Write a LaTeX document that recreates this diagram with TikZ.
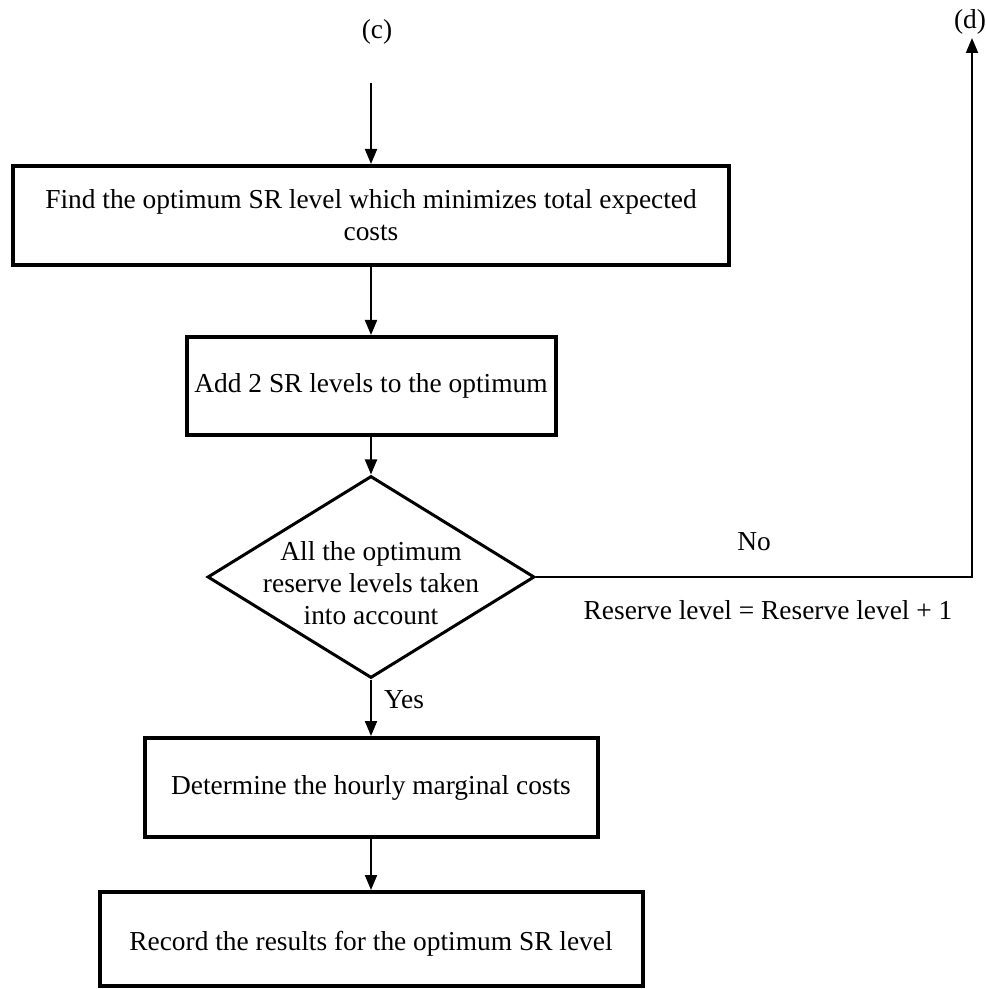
\documentclass[tikz,border=0pt]{standalone}
\usepackage{fontspec}
\setmainfont{Liberation Serif}
\usetikzlibrary{shapes.geometric,arrows.meta}
\begin{document}
\begin{tikzpicture}[x=0.5pt,y=-0.5pt,
  txt/.style={font=\fontsize{13.7}{16}\selectfont},
  box/.style={txt,draw,line width=2pt,rectangle,inner sep=0pt,align=center},
  dec/.style={draw,line width=1.5pt,diamond,inner sep=0pt,minimum width=163.5pt,minimum height=101pt},
  arr/.style={line width=1pt,-{Triangle[width=6pt,length=7.5pt]}},
  lbl/.style={txt,inner sep=0pt}]
\useasboundingbox[fill=white] (0,0) rectangle (985,989);
\node[lbl] (c) at (377,32) {(c)};
\node[lbl] (d) at (970,22) {(d)};
\coordinate (cin) at (371,83);
\node[box,minimum width=358pt,minimum height=49.5pt] (b1) at (371,215.5) {Find the optimum SR level which minimizes total expected\\costs};
\node[box,minimum width=184.5pt,minimum height=49pt] (b2) at (371,386) {Add 2 SR levels to the optimum};
\node[dec] (dia) at (371,577) {};
\node[lbl,align=center] (diatext) at (371,583) {All the optimum\\reserve levels taken\\into account};
\node[box,minimum width=226.5pt,minimum height=49.5pt] (b3) at (371,787.5) {Determine the hourly marginal costs};
\node[box,minimum width=271.5pt,minimum height=47pt,text height=14pt,text depth=3pt] (b4) at (371,939) {Record the results for the optimum SR level};
\coordinate (corner) at (972,577);
\coordinate (dtip) at (972,38);
\draw[arr] (cin) -- (b1);
\draw[arr] (b1) -- (b2);
\draw[arr] (b2) -- (dia);
\draw[arr] (dia) -- (b3);
\draw[arr] (b3) -- (b4);
\draw[arr] (dia.east) -- (corner) -- (dtip);
\node[lbl] (no) at (754,542) {No};
\node[lbl] (res) at (768,610) {Reserve level = Reserve level + 1};
\node[lbl] (yes) at (404,700) {Yes};
\end{tikzpicture}
\end{document}
